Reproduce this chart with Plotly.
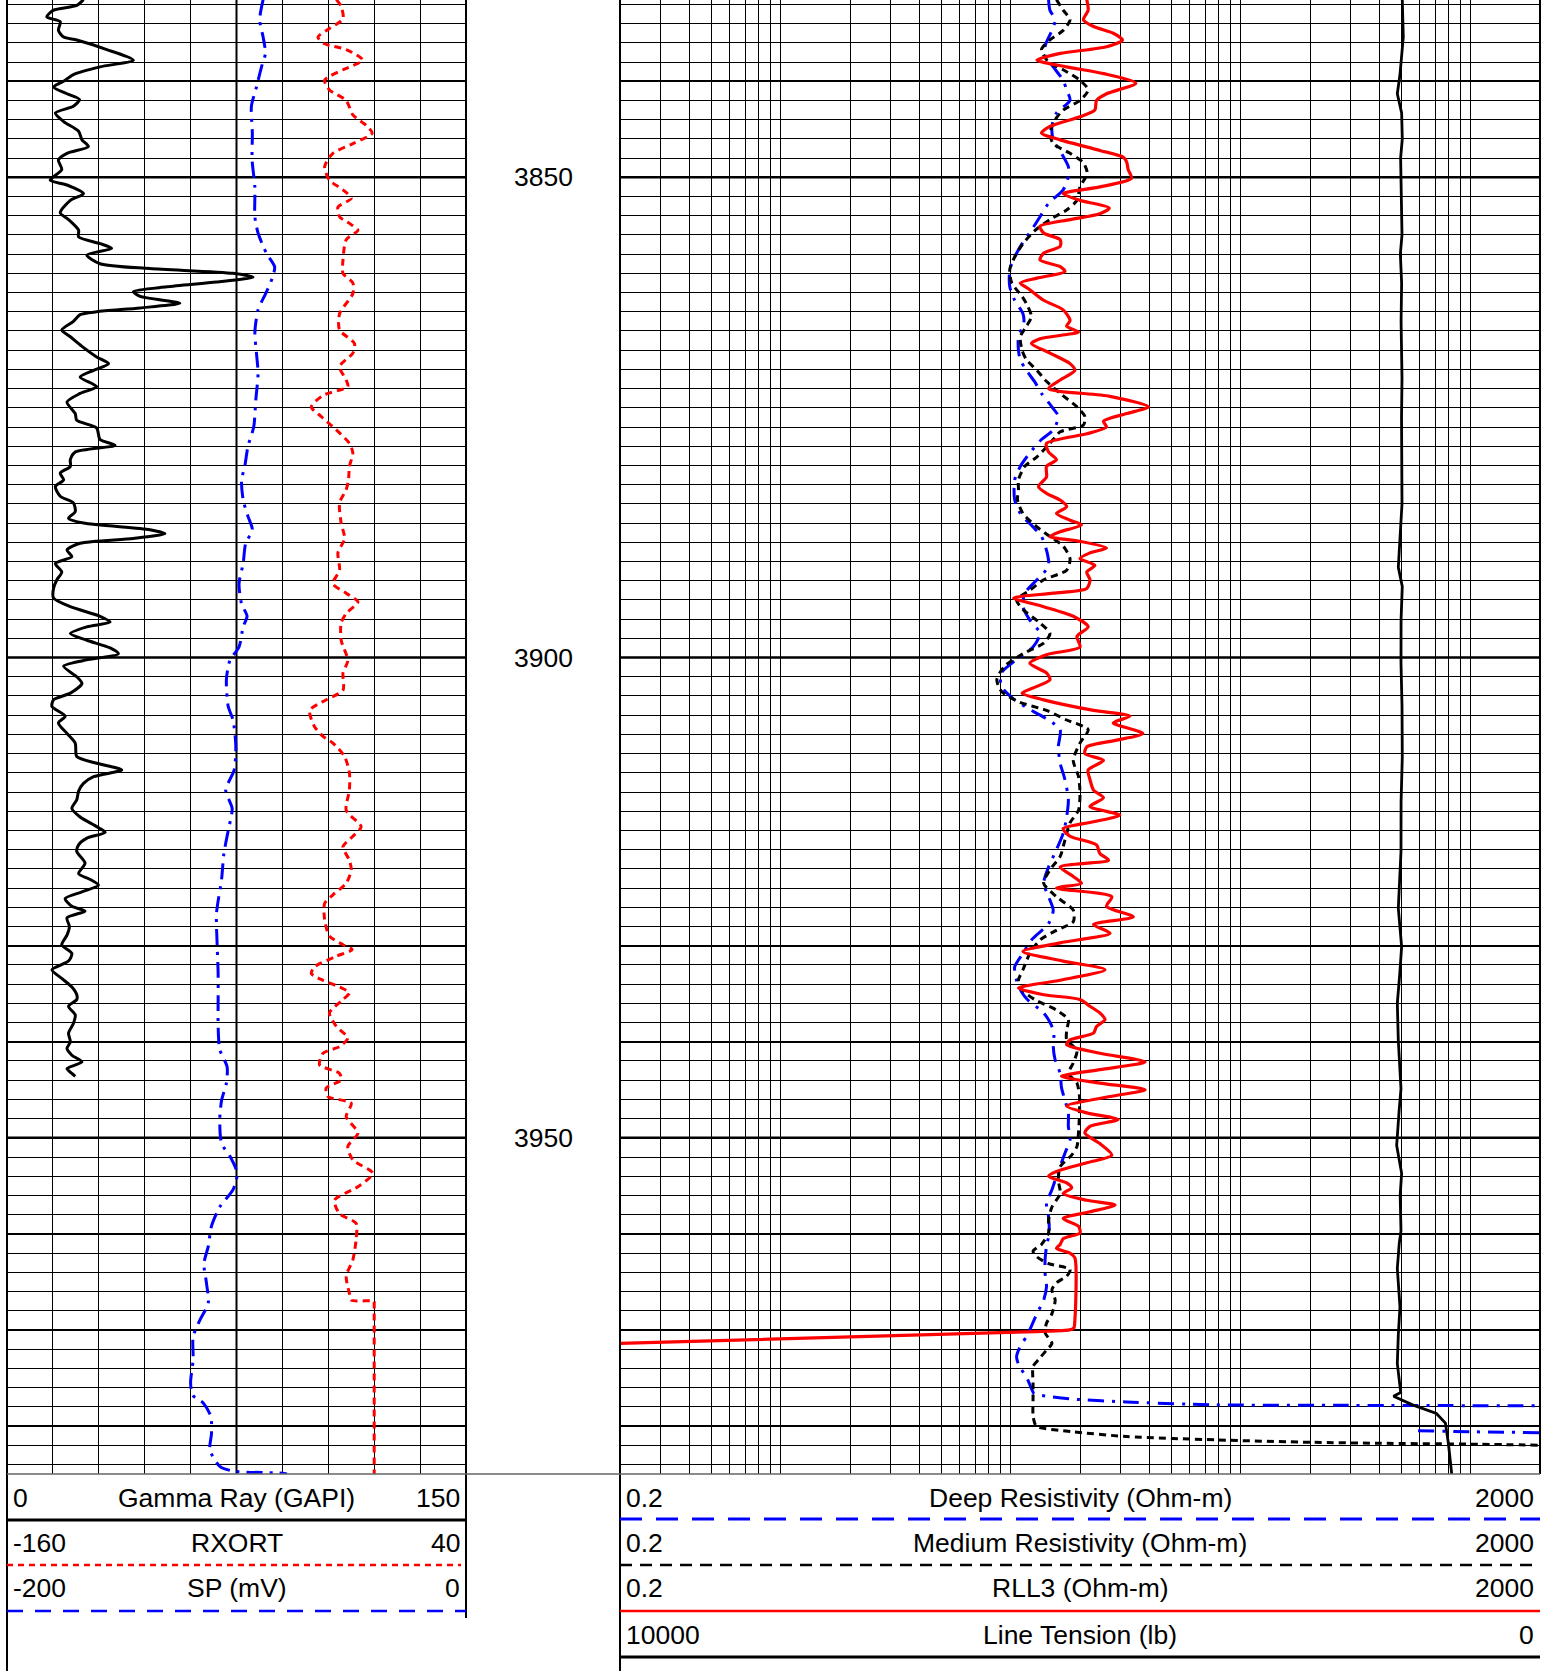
import math
import plotly.graph_objects as go

W, H = 1554, 1671

# ---------------- DATA (depth ft, value) ----------------
GR = [(3831.5,25.0),(3832.1,22.8),(3832.6,15.2),(3833.3,13.0),(3833.8,17.4),(3834.7,16.8),(3835.4,18.5),(3835.7,22.8),
      (3836.7,32.6),(3837.8,41.3),(3838.5,30.4),(3839.3,21.7),(3840.0,18.5),(3840.6,15.2),(3841.3,19.6),(3841.9,23.7),
      (3842.6,21.7),(3843.3,15.8),(3844.2,18.5),(3845.2,23.4),(3846.1,24.5),(3846.8,26.6),(3847.5,19.6),(3848.2,16.8),
      (3849.2,17.9),(3850.3,14.1),(3850.8,19.6),(3851.7,25.0),(3852.4,20.7),(3853.7,17.4),(3854.4,20.1),(3855.5,23.4),
      (3856.2,23.4),(3856.9,30.4),(3857.4,34.2),(3858.1,26.1),(3859.0,30.4),(3859.5,46.7),(3860.0,73.9),(3860.4,80.4),
      (3860.9,68.5),(3861.4,52.2),(3861.9,41.3),(3862.4,43.5),(3863.1,56.5),(3863.6,43.5),(3864.0,29.3),(3864.3,23.9),
      (3865.0,21.7),(3865.9,17.9),(3866.6,20.7),(3867.6,24.5),(3868.7,29.3),(3869.4,33.2),(3870.1,28.3),(3870.8,23.9),
      (3871.8,29.3),(3872.5,23.9),(3873.4,19.6),(3874.6,22.3),(3875.3,22.8),(3876.1,29.3),(3877.3,30.4),(3877.9,35.3),
      (3878.6,22.3),(3879.4,20.7),(3880.1,20.7),(3880.8,17.4),(3881.5,18.5),
      (3882.2,15.8),(3883.2,17.4),(3883.9,21.7),(3884.8,22.3),(3885.5,20.1),(3886.0,25.0),(3886.7,46.7),(3887.1,51.6),
      (3887.6,41.3),(3888.1,23.9),(3888.8,19.6),(3889.5,21.2),(3890.2,15.8),(3891.1,17.9),(3891.9,16.3),(3892.8,15.2),
      (3893.8,15.2),(3894.7,20.7),(3895.7,30.4),(3896.3,33.7),(3896.8,26.1),(3897.5,20.7),(3898.2,26.1),(3899.0,33.7),
      (3899.6,36.4),(3900.3,25.0),(3900.9,18.5),(3902.0,22.8),(3902.7,24.5),(3903.7,20.7),(3904.4,15.2),(3905.1,14.7),
      (3906.1,19.0),(3906.8,16.8),(3907.9,19.6),(3908.9,22.3),(3910.3,22.8),(3911.0,29.3),(3911.7,37.5),(3912.4,28.3),
      (3913.1,25.0),(3913.9,23.4),(3914.8,22.8),(3915.7,21.2),(3916.6,23.9),(3917.6,29.3),(3918.2,32.1),(3918.8,26.1),
      (3919.5,23.4),(3920.2,22.8),(3921.4,25.5),(3922.5,23.4),(3923.1,27.2),(3923.7,29.9),(3924.4,24.5),(3925.1,19.0),
      (3925.9,21.2),(3926.4,25.5),(3927.1,19.6),(3928.0,20.4),(3928.9,19.6),(3929.9,17.9),(3930.8,21.2),(3931.6,20.1),
      (3932.5,14.7),(3933.4,17.9),(3934.3,21.2),(3935.1,22.8),
      (3935.6,22.8),(3936.3,20.1),(3937.2,22.3),(3938.1,21.7),(3939.1,20.1),(3940.0,20.7),(3940.7,19.6),(3941.4,21.2),
      (3942.1,24.5),(3942.8,19.6),(3943.3,21.2),(3943.6,22.3)]

SP = [(3831.5,-88.4),(3833.6,-89.9),(3835.4,-88.4),(3837.1,-87.4),(3838.5,-89.1),(3840.6,-91.3),(3842.6,-93.5),
      (3845.4,-93.1),(3848.2,-93.2),(3851.0,-92.0),(3854.1,-92.0),(3855.8,-90.6),(3857.9,-87.0),(3859.3,-83.4),
      (3860.3,-84.1),(3862.1,-87.3),(3863.8,-90.6),(3866.2,-92.0),(3868.3,-91.3),(3870.4,-90.6),(3873.2,-91.6),
      (3876.0,-92.5),(3878.0,-95.0),(3880.1,-96.4),(3881.5,-97.8),(3883.6,-97.1),(3885.3,-95.0),(3886.7,-93.1),
      (3888.1,-96.0),(3890.2,-97.1),(3892.3,-98.9),(3894.4,-97.8),(3895.7,-95.4),(3896.8,-97.1),(3898.9,-98.9),
      (3900.3,-102.9),(3902.3,-104.4),(3905.1,-103.6),(3906.5,-101.5),(3909.3,-100.3),(3911.7,-101.0),
      (3913.8,-104.7),(3915.7,-101.9),(3918.0,-103.6),(3920.4,-105.5),(3923.1,-106.5),(3926.6,-108.7),
      (3930.1,-108.4),(3932.9,-108.0),(3935.6,-108.0),(3938.4,-108.0),(3940.8,-107.3),(3942.6,-104.1),
      (3944.3,-104.4),(3946.1,-106.5),(3948.1,-107.3),(3950.6,-106.5),(3951.9,-102.9),(3953.7,-99.7),
      (3955.4,-101.5),(3957.2,-107.3),(3959.2,-110.9),(3961.3,-112.3),(3963.1,-114.2),(3965.1,-113.1),
      (3967.2,-112.3),(3969.0,-116.0),(3970.7,-118.9),(3973.1,-118.9),(3975.5,-120.0),(3976.8,-119.1),
      (3977.6,-114.5),(3979.0,-111.2),(3980.8,-110.9),(3982.5,-111.6),(3984.2,-107.3),(3984.7,-101.5),
      (3984.9,-81.2),(3985.0,-78.0)]

RXORT = [(3831.5,-16.5),(3832.2,-14.4),(3833.5,-13.6),(3834.5,-19.5),(3835.4,-24.5),(3836.1,-21.6),(3836.7,-12.2),
         (3837.8,-5.0),(3838.8,-13.6),(3839.9,-21.6),(3840.9,-19.5),(3842.0,-12.2),(3843.5,-9.3),(3844.6,-3.5),
         (3845.4,-0.9),(3846.5,-9.3),(3847.5,-18.0),(3848.9,-21.6),(3850.3,-19.5),(3851.3,-13.6),(3852.2,-10.0),
         (3853.1,-15.8),(3854.1,-15.1),(3854.8,-10.8),(3855.5,-7.1),(3856.5,-12.2),(3858.6,-13.6),(3860.0,-13.6),
         (3861.0,-9.3),(3862.1,-9.3),(3864.2,-15.1),(3865.9,-15.1),(3867.3,-8.6),(3868.3,-9.3),(3869.7,-15.1),
         (3871.1,-12.2),(3871.8,-11.5),(3872.7,-22.3),(3873.9,-27.4),(3874.9,-23.1),(3876.3,-16.5),(3877.7,-10.8),
         (3878.7,-9.3),(3880.1,-10.8),(3881.5,-11.2),(3882.5,-12.2),(3883.9,-15.1),(3886.0,-14.4),(3887.6,-12.9),
         (3889.1,-15.8),(3890.9,-15.1),(3892.3,-18.0),(3893.3,-12.2),(3894.2,-7.1),(3895.4,-12.2),(3896.4,-14.4),
         (3898.2,-14.4),(3900.3,-11.5),(3901.6,-13.6),(3903.4,-13.6),(3904.4,-20.9),(3905.5,-28.1),(3907.2,-26.0),
         (3908.2,-22.3),(3908.9,-18.0),(3910.3,-12.9),(3912.0,-10.8),(3913.8,-10.8),(3915.9,-12.2),(3917.6,-5.7),
         (3918.6,-9.3),(3919.7,-13.6),(3921.1,-10.8),(3922.1,-10.0),(3923.5,-12.2),(3924.7,-18.0),(3925.6,-21.6),
         (3927.3,-21.6),(3929.0,-19.5),(3929.9,-13.6),(3930.4,-9.6),(3931.1,-16.5),(3932.2,-26.0),(3932.9,-27.4),
         (3933.6,-22.3),(3934.3,-15.1),(3934.9,-10.8),(3935.6,-13.6),(3937.0,-19.5),(3938.4,-16.5),(3939.6,-11.5),
         (3940.5,-15.1),(3941.2,-22.3),(3942.4,-23.8),(3943.3,-15.1),(3944.0,-14.4),(3944.8,-20.9),(3945.7,-20.2),
         (3946.4,-10.0),(3947.8,-12.2),(3949.5,-7.1),(3950.9,-11.5),(3952.3,-9.3),(3953.7,-0.6),(3955.1,-7.1),
         (3956.5,-17.3),(3957.9,-15.1),(3958.9,-7.9),(3960.6,-7.9),(3962.7,-9.3),(3964.4,-12.2),(3966.2,-10.8),
         (3966.9,-10.0),(3967.0,0.0),(3967.2,0.0),(3985.0,0.0)]

DEEP = [(3831.5,14.6),(3832.6,14.8),(3833.6,15.6),(3834.7,15.1),(3836.1,14.2),(3837.1,14.0),(3838.5,15.3),(3839.9,16.9),
        (3840.9,17.5),(3842.0,18.1),(3843.3,15.8),(3844.7,15.1),(3846.1,15.3),(3847.5,16.6),(3848.9,17.8),(3849.9,17.8),
        (3851.3,16.9),(3852.7,14.6),(3854.1,13.4),(3855.5,12.3),(3856.9,11.2),(3858.3,10.4),(3859.6,9.9),(3861.4,9.9),
        (3862.8,10.4),(3864.2,11.3),(3865.2,11.4),(3866.6,10.8),(3868.0,10.8),(3869.0,11.0),(3870.1,11.7),(3871.4,12.8),
        (3872.5,13.6),(3873.9,15.1),(3874.9,16.1),(3876.3,15.3),(3877.3,13.6),(3878.7,12.1),(3880.1,11.0),(3881.5,10.4),
        (3883.6,10.4),(3885.0,11.0),(3886.4,12.5),(3887.4,13.6),(3889.1,14.4),(3890.5,14.6),(3891.9,13.0),(3893.3,11.5),
        (3894.7,11.3),(3896.1,12.1),(3897.5,13.4),(3898.9,12.5),(3900.2,10.6),(3901.6,9.1),(3903.0,9.1),(3904.4,10.4),
        (3905.5,12.3),(3906.5,14.6),(3907.5,16.4),(3909.3,16.1),(3911.0,16.4),(3912.7,17.2),(3914.8,17.8),(3916.6,17.5),
        (3918.3,16.9),(3920.0,15.8),(3921.8,14.6),(3923.5,13.9),(3924.9,14.6),(3926.3,15.3),(3927.7,14.6),(3929.4,12.3),
        (3930.8,11.3),(3932.2,10.4),(3933.6,10.6),(3934.9,11.2),(3935.6,11.8),(3937.0,13.9),(3938.1,14.9),(3939.1,15.4),
        (3940.5,15.3),(3941.9,15.6),(3943.3,16.4),(3944.7,16.6),(3946.1,17.2),(3947.4,17.8),(3948.8,17.8),(3950.2,18.1),
        (3951.6,17.2),(3952.6,16.6),(3954.0,15.8),(3955.4,15.1),(3956.8,14.3),(3958.2,14.6),(3959.9,14.7),(3961.3,14.3),
        (3962.7,14.1),(3964.1,14.1),(3965.5,14.3),(3966.9,13.9),(3968.3,13.0),(3969.6,12.3),(3970.7,11.7),(3971.7,11.0),
        (3972.8,10.6),(3973.8,10.9),(3974.9,11.7),(3976.1,12.3),(3976.6,12.6),(3976.8,13.5),(3977.2,18.6),(3977.5,31.8),
        (3977.8,78.0),(3977.85,257.0),(3977.9,2000.0),(3979.0,None),(3980.5,590.0),(3980.6,1000.0),(3980.7,2000.0)]

MEDIUM = [(3831.5,15.8),(3832.6,16.9),(3833.6,18.1),(3834.7,16.9),(3835.7,14.8),(3836.7,13.6),(3838.0,14.6),(3838.8,16.9),
          (3839.9,20.0),(3840.9,21.7),(3842.0,20.0),(3843.0,16.9),(3844.0,15.6),(3845.4,14.8),(3846.5,15.3),(3847.5,18.1),
          (3848.5,20.7),(3849.6,21.5),(3851.0,20.0),(3852.4,19.4),(3853.4,17.5),(3854.4,14.8),(3855.5,12.8),(3856.9,11.3),
          (3858.3,10.4),(3859.6,9.9),(3861.0,10.1),(3862.4,11.2),(3863.5,11.9),(3864.5,12.3),(3865.5,11.7),(3866.6,11.0),
          (3868.0,11.2),(3869.0,11.7),(3870.1,13.0),(3871.1,14.1),(3872.5,16.4),(3873.9,19.4),(3874.9,21.0),(3875.8,20.7),
          (3876.5,16.4),(3877.7,14.8),(3879.1,13.0),(3880.1,11.5),(3881.5,10.8),(3882.5,10.8),(3883.6,10.7),(3885.0,11.3),
          (3886.4,13.0),(3887.4,14.8),(3888.4,16.9),(3889.7,18.1),(3890.9,17.5),(3891.9,13.9),(3893.0,12.1),(3894.0,10.6),
          (3895.0,11.3),(3896.4,13.4),(3897.5,14.8),(3898.5,13.9),(3899.6,11.3),(3900.9,9.4),(3902.3,8.7),(3903.5,9.1),
          (3904.6,10.8),(3905.5,14.3),(3906.5,17.5),(3907.5,21.7),(3908.9,20.0),(3910.7,18.7),(3912.4,19.7),(3914.1,20.0),
          (3915.9,19.7),(3917.2,18.1),(3919.0,17.2),(3920.7,16.4),(3922.1,14.8),(3923.5,13.9),(3924.9,15.8),(3926.3,18.7),
          (3927.5,18.7),(3928.4,15.8),(3929.4,13.4),(3930.8,12.1),(3932.5,11.3),(3933.6,10.8),(3934.6,11.2),(3935.6,12.7),
          (3936.7,15.8),(3937.7,17.8),(3938.8,17.5),(3939.8,17.5),(3940.9,19.4),(3942.2,18.7),(3943.3,17.8),(3944.3,19.4),
          (3945.7,19.9),(3947.4,19.9),(3949.5,19.7),(3950.9,19.4),(3951.8,18.4),(3953.0,16.4),(3954.4,16.1),(3955.8,16.4),
          (3957.2,15.1),(3958.5,14.6),(3959.9,14.6),(3961.1,13.6),(3961.8,12.5),(3962.4,13.0),(3963.1,14.6),(3963.7,18.1),
          (3964.4,17.5),(3965.1,15.8),(3965.8,15.1),(3966.9,15.6),(3968.3,15.1),(3969.3,14.3),(3970.3,14.1),(3971.4,15.1),
          (3972.1,14.3),(3973.1,13.2),(3973.8,12.5),(3975.5,12.5),(3977.3,12.5),(3979.0,12.5),(3979.9,12.8),(3980.1,13.0),
          (3980.6,18.6),(3981.1,31.8),(3981.45,78.0),(3981.7,202.0),(3981.8,400.0),(3981.9,1075.0),(3982.0,2000.0)]

RLL3 = [(3831.5,21.4),(3832.6,21.7),(3833.6,20.7),(3834.3,22.9),(3835.0,27.9),(3835.7,30.6),(3836.4,26.1),(3837.1,16.4),
        (3837.8,13.0),(3838.5,17.5),(3839.2,25.3),(3840.2,35.0),(3841.3,26.1),(3842.0,23.6),(3843.0,23.2),(3843.7,20.0),
        (3844.7,14.8),(3845.4,13.6),(3846.1,16.4),(3847.2,24.4),(3847.9,30.8),(3848.4,31.9),(3849.2,32.4),(3850.1,33.5),
        (3851.0,24.4),(3851.7,16.9),(3852.4,20.0),(3853.2,26.8),(3853.8,24.4),(3854.4,18.1),(3855.1,13.4),(3855.8,13.9),
        (3856.5,16.4),(3857.2,16.4),(3857.9,13.9),(3858.6,13.4),(3859.3,16.4),(3859.8,17.2),(3860.5,13.0),(3861.0,11.0),
        (3861.7,12.1),(3862.8,13.9),(3863.8,16.9),(3864.9,18.1),(3865.5,17.5),(3866.1,19.7),(3866.8,13.4),(3867.3,12.3),
        (3868.3,14.8),(3869.4,18.1),(3870.1,19.0),(3871.1,16.4),(3872.0,14.6),(3872.8,27.0),(3873.9,39.7),(3874.6,31.9),
        (3875.4,25.3),(3876.0,26.1),(3876.7,21.4),(3877.7,14.3),(3878.6,14.6),(3879.4,15.8),(3880.1,14.3),(3881.2,14.3),
        (3882.2,13.2),(3882.9,14.3),(3883.6,16.4),(3884.3,17.5),(3885.0,15.8),(3885.7,18.1),(3886.2,20.3),(3886.9,16.4),
        (3887.4,14.8),(3887.9,20.0),(3888.6,26.1),(3889.1,22.1),(3889.7,20.0),(3890.4,23.2),(3891.1,21.4),(3891.9,22.1),
        (3892.8,21.4),(3893.3,15.3),(3893.8,10.3),(3894.7,13.9),(3895.7,18.7),(3896.8,21.7),(3897.8,19.4),(3898.9,20.0),
        (3899.7,14.3),(3900.6,12.1),(3901.6,14.3),(3902.3,14.8),(3903.0,13.0),(3903.7,11.2),(3904.4,13.9),(3905.5,22.9),
        (3906.1,33.0),(3906.8,27.9),(3907.9,37.5),(3908.6,28.9),(3909.3,21.4),(3910.0,21.0),(3910.7,25.3),(3911.7,21.7),
        (3912.7,22.1),(3913.8,22.9),(3914.6,25.3),(3915.5,22.1),(3916.4,29.8),(3917.1,22.9),(3917.8,16.9),(3918.6,18.1),
        (3919.5,23.6),(3920.4,24.4),(3921.1,26.6),(3921.8,16.4),(3922.8,18.7),(3923.5,20.3),(3924.0,15.8),(3924.9,27.5),
        (3925.9,26.1),(3927.0,34.1),(3927.8,22.9),(3928.7,27.0),(3929.7,16.4),(3930.6,11.3),(3931.6,16.9),(3932.5,25.7),
        (3933.6,16.4),(3934.4,10.8),(3935.1,13.9),(3935.6,20.0),(3936.3,22.1),(3937.0,24.4),(3937.7,25.7),(3938.4,23.6),
        (3939.1,22.9),(3939.8,18.1),(3940.3,17.5),(3941.2,24.4),(3942.1,38.4),(3942.9,24.4),(3943.6,16.6),(3944.3,24.4),
        (3945.0,38.4),(3945.7,27.0),(3946.7,17.5),(3947.4,21.4),(3948.1,29.3),(3948.8,22.1),(3949.5,21.0),(3950.6,24.4),
        (3951.8,27.5),(3952.6,21.4),(3953.5,15.8),(3954.0,14.6),(3954.7,17.5),(3955.2,18.4),(3955.8,16.9),(3956.5,21.4),
        (3957.0,28.4),(3957.7,22.1),(3958.4,16.9),(3959.2,19.7),(3959.9,20.0),(3960.5,16.9),(3961.1,16.4),(3961.5,15.8),
        (3962.0,18.1),(3962.5,19.0),(3969.0,19.0),(3969.8,18.8),(3970.0,18.0),(3970.17,13.0),(3971.4,0.2)]

TENSION = [(3831.5,1497),(3835.4,1486),(3839.3,1522),(3841.3,1551),(3843.3,1504),(3846.0,1497),(3848.0,1515),
           (3851.2,1511),(3856.0,1500),(3858.0,1518),(3861.0,1504),(3865.0,1510),(3870.9,1500),(3875.0,1505),
           (3880.8,1497),(3884.0,1500),(3890.6,1540),(3892.6,1497),(3896.0,1510),(3900.5,1511),(3905.0,1500),
           (3910.4,1497),(3915.0,1510),(3920.2,1511),(3926.1,1540),(3930.1,1504),(3933.0,1525),(3936.0,1551),
           (3939.9,1540),(3944.9,1511),(3947.0,1530),(3950.8,1558),(3953.7,1504),(3956.0,1520),(3959.7,1511),
           (3961.0,1530),(3963.6,1551),(3965.0,1540),(3967.6,1522),(3970.5,1540),(3973.5,1551),(3976.5,1514),
           (3976.9,1592),(3977.8,1385),(3978.7,1126),(3979.7,1028),(3981.8,996),(3984.6,964),(3985.0,960)]

DEPTH_LABELS = [3850, 3900, 3950]
DEPTH_TOP, DEPTH_BOTTOM = 3831.54, 3985.0

TRACK1_LEGEND = [("0", "Gamma Ray (GAPI)", "150"), ("-160", "RXORT", "40"), ("-200", "SP (mV)", "0")]
TRACK3_LEGEND = [("0.2", "Deep Resistivity (Ohm-m)", "2000"), ("0.2", "Medium Resistivity (Ohm-m)", "2000"),
                 ("0.2", "RLL3 (Ohm-m)", "2000"), ("10000", "Line Tension (lb)", "0")]

# ---------------- LAYOUT GEOMETRY (pixels) ----------------
T1L, T1R = 7, 466
T3L, T3R = 620, 1540
PLOT_BOTTOM = 1474
FONT = "Liberation Sans, Arial, sans-serif"
FS = 26.5


def px(x):
    return x / W


def py(y):
    return 1 - y / H


def cols(pairs):
    return [v for _, v in pairs], [d for d, _ in pairs]


fig = go.Figure()


def add_curve(pairs, xaxis, color, width, dash="solid", shape="spline"):
    xs, ys = cols(pairs)
    fig.add_trace(go.Scatter(x=xs, y=ys, xaxis=xaxis, yaxis="y", mode="lines",
                             line=dict(color=color, width=width, dash=dash, shape=shape,
                                       smoothing=0.7 if shape == "spline" else None),
                             connectgaps=False, hoverinfo="skip"))


add_curve(GR, "x", "black", 3)
add_curve(SP, "x2", "#0000ff", 3, "16px,7px,3px,7px")
add_curve(RXORT, "x3", "#ff0000", 3, "7px,5px")
add_curve(DEEP, "x4", "#0000ff", 3, "16px,8px,3px,8px")
add_curve(MEDIUM, "x4", "black", 3, "7px,5px")
add_curve(RLL3, "x4", "#ff0000", 3.2)
add_curve(TENSION, "x5", "black", 2.8, shape="linear")

LOG_GRID = [m * 10 ** e for e in range(-1, 4) for m in range(1, 10) if 0.2 - 1e-9 <= m * 10 ** e <= 2000 + 1e-9]

grid_common = dict(showticklabels=False, ticks="", zeroline=False, showline=False, fixedrange=True)
fig.update_layout(
    width=W, height=H, margin=dict(l=0, r=0, t=0, b=0),
    paper_bgcolor="white", plot_bgcolor="white", showlegend=False,
    xaxis=dict(domain=[px(T1L), px(T1R)], range=[0, 150], anchor="y", tickmode="linear", tick0=0, dtick=15,
               showgrid=True, gridcolor="black", gridwidth=1, **grid_common),
    xaxis2=dict(overlaying="x", anchor="y", range=[-200, 0], visible=False),
    xaxis3=dict(overlaying="x", anchor="y", range=[-160, 40], visible=False),
    xaxis4=dict(domain=[px(T3L), px(T3R)], type="log", range=[math.log10(0.2), math.log10(2000)], anchor="y",
                tickmode="array", tickvals=LOG_GRID, showgrid=True, gridcolor="black", gridwidth=1, **grid_common),
    xaxis5=dict(overlaying="x4", anchor="y", range=[10000, 0], visible=False),
    yaxis=dict(domain=[py(PLOT_BOTTOM), 1], range=[DEPTH_BOTTOM, DEPTH_TOP], anchor="x",
               tickmode="linear", tick0=3830, dtick=10, showgrid=True, gridcolor="black", gridwidth=1.6,
               minor=dict(tick0=3830, dtick=2, showgrid=True, gridcolor="black", gridwidth=1),
               **grid_common),
)

shapes = []


def hline(y, x0, x1, color="black", width=1, dash="solid", layer="above"):
    shapes.append(dict(type="line", xref="paper", yref="paper", x0=px(x0), x1=px(x1), y0=py(y), y1=py(y),
                       line=dict(color=color, width=width, dash=dash), layer=layer))


def vline(x, y0, y1, color="black", width=2):
    shapes.append(dict(type="line", xref="paper", yref="paper", x0=px(x), x1=px(x), y0=py(y0), y1=py(y1),
                       line=dict(color=color, width=width)))


# thick 50 ft lines
for d in DEPTH_LABELS:
    for (a, b) in [(T1L, T1R), (T3L, T3R)]:
        shapes.append(dict(type="line", xref="paper", yref="y", x0=px(a), x1=px(b), y0=d, y1=d,
                           line=dict(color="black", width=2.6), layer="below"))
# track-1 centre line
shapes.append(dict(type="line", xref="x", yref="paper", x0=75, x1=75, y0=py(PLOT_BOTTOM), y1=1,
                   line=dict(color="black", width=2), layer="below"))

# borders
vline(T1L, 0, H)
vline(T1R, 0, 1618)
vline(T3L, 0, H)
vline(T3R, 0, PLOT_BOTTOM)
hline(PLOT_BOTTOM, T1L, T3R, color="#666", width=1.5)

# legend lines
hline(1520, T1L, T1R, "black", 3)
hline(1565, T1L, 461, "#ff0000", 2.5, "6px,5px")
hline(1611, T1L, T1R, "#0000ff", 2.5, "16px,12px")
hline(1519, T3L, T3R, "#0000ff", 3, "22px,14px")
hline(1565, T3L, T3R, "black", 2.5, "12px,8px")
hline(1611, T3L, T3R, "#ff0000", 2.5)
hline(1657, T3L, T3R, "black", 3)

fig.update_layout(shapes=shapes)

annotations = []


def text(x, y, s, anchor):
    annotations.append(dict(xref="paper", yref="paper", x=px(x), y=py(y), text=s, showarrow=False,
                            xanchor=anchor, yanchor="middle", font=dict(family=FONT, size=FS, color="black")))


for d in DEPTH_LABELS:
    annotations.append(dict(xref="paper", yref="y", x=px((T1R + T3L) / 2), y=d, text=str(d), showarrow=False,
                            xanchor="center", yanchor="middle", font=dict(family=FONT, size=FS, color="black")))

row_y = [1497.5, 1543, 1588, 1634.5]
for i, (lo, name, hi) in enumerate(TRACK1_LEGEND):
    text(T1L + 4, row_y[i], lo, "left")
    text((T1L + T1R) / 2, row_y[i], name, "center")
    text(T1R - 4, row_y[i], hi, "right")
for i, (lo, name, hi) in enumerate(TRACK3_LEGEND):
    text(T3L + 4, row_y[i], lo, "left")
    text((T3L + T3R) / 2, row_y[i], name, "center")
    text(T3R - 4, row_y[i], hi, "right")

fig.update_layout(annotations=annotations)

fig.write_html("out.html", config={"displayModeBar": False, "staticPlot": True},
               post_script="document.body.style.margin='0';document.body.style.overflow='hidden';")
